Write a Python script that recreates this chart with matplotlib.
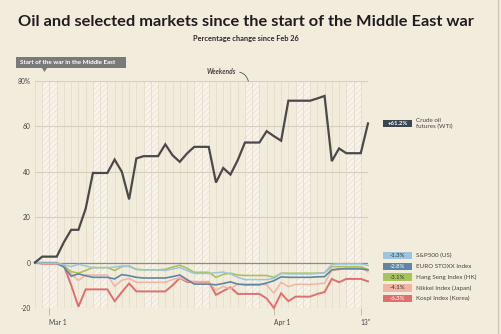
import numpy as np
import pandas as pd
import matplotlib
matplotlib.use('Agg')
import matplotlib.pyplot as plt
from matplotlib.patches import Polygon

plt.rcParams['font.family'] = ['Lato', 'DejaVu Sans']
plt.rcParams['hatch.linewidth'] = 0.6

# daily closes, Feb 26 .. Apr 13 (weekends carry Friday's value)
dates = pd.date_range('2026-02-26', '2026-04-13', freq='D')

oil = [0, 2.6, 2.6, 2.6, 9.0, 14.4, 14.4, 23.7, 39.4, 39.4, 39.4, 45.3, 39.9, 27.8,
       45.8, 46.8, 46.8, 46.8, 52.0, 47.2, 44.3, 48.0, 50.9, 50.9, 50.9, 35.2, 41.6,
       38.7, 45.0, 52.8, 52.8, 52.8, 57.8, 55.6, 53.6, 71.2, 71.2, 71.2, 71.2, 72.2,
       73.3, 44.6, 50.2, 48.1, 48.1, 48.1, 61.2]
sp500 = [0, -0.3, -0.3, -0.3, -1.0, -1.8, -0.8, -1.5, -2.3, -2.3, -2.3, -2.0, -1.5, -1.8,
         -3.0, -3.2, -3.2, -3.2, -3.5, -2.8, -2.2, -3.5, -4.8, -4.8, -4.8, -4.5, -4.2,
         -5.0, -6.5, -7.5, -7.5, -7.5, -7.5, -7.0, -4.8, -5.0, -5.0, -5.0, -5.0, -4.8,
         -4.5, -0.8, -0.6, -0.6, -0.6, -0.6, -1.3]
stoxx = [0, -0.3, -0.3, -0.3, -2.0, -6.0, -5.0, -5.8, -6.5, -6.5, -6.5, -7.2, -5.3, -5.8,
         -6.5, -6.8, -6.8, -6.8, -6.8, -6.2, -5.5, -7.5, -9.5, -9.5, -9.5, -9.8, -9.2,
         -8.5, -9.5, -9.8, -9.8, -9.8, -9.0, -8.0, -6.3, -6.5, -6.5, -6.5, -6.5, -6.3,
         -6.2, -3.2, -2.8, -2.8, -2.8, -2.8, -3.2]
hang_seng = [0, 0, 0, 0, -1.5, -4.0, -4.7, -3.5, -2.2, -2.2, -2.2, -3.5, -1.8, -1.5,
             -3.0, -3.2, -3.2, -3.2, -3.0, -2.0, -1.2, -2.5, -4.3, -4.3, -4.3, -6.5, -5.2,
             -4.7, -5.5, -5.7, -5.7, -5.7, -5.7, -6.5, -4.7, -4.7, -4.7, -4.7, -4.7, -4.7,
             -4.5, -1.8, -1.8, -1.8, -1.8, -1.8, -3.1]
nikkei = [0, -0.3, -0.3, -0.3, -1.5, -5.0, -7.9, -5.5, -5.5, -5.5, -5.5, -10.4, -7.8, -7.0,
          -8.7, -8.7, -8.7, -8.7, -8.7, -7.5, -6.8, -8.0, -8.5, -8.5, -8.5, -12.2, -10.5,
          -11.5, -9.5, -9.4, -9.4, -9.4, -9.8, -13.5, -8.7, -10.6, -9.6, -9.6, -9.6, -9.4,
          -9.1, -3.5, -3.2, -2.2, -2.2, -2.2, -4.1]
kospi = [0, -0.5, -0.5, -0.5, -1.5, -10.0, -19.4, -11.8, -11.8, -11.8, -11.8, -17.0, -13.0, -9.2,
         -12.7, -12.7, -12.7, -12.7, -12.7, -10.0, -6.8, -8.5, -8.5, -8.5, -8.5, -14.2, -12.5,
         -10.9, -13.8, -13.8, -13.8, -13.8, -15.8, -20.0, -13.5, -17.0, -15.0, -15.0, -15.0, -13.8,
         -13.0, -7.2, -8.7, -7.2, -7.2, -7.2, -8.3]

names = ['S&P500 (US)', 'EURO STOXX Index', 'Hang Seng Index (HK)', 'Nikkei Index (Japan)', 'Kospi Index (Korea)']
labels = ['-1.3%', '-2.8%', '-3.1%', '-4.1%', '-6.3%']
colors = ['#9ec4de', '#5f86a3', '#a9c35c', '#f0b4a3', '#e06f6c']
oil_label = '+61.2%'

ytick_vals = [-20, 0, 20, 40, 60, 80]
ytick_text = ['-20', '0', '20', '40', '60', '80%']
xtick_dates = ['2026-03-01', '2026-04-01', '2026-04-13']
xtick_text = ['Mar 1', 'Apr 1', '13"']

bg = '#f2ecdd'
W, H = 501, 334

# close of day d is drawn at the end of that day
start = dates[0]
t = np.array([(d - start).days + 1 for d in dates])

fig = plt.figure(figsize=(W / 100, H / 100), dpi=100, facecolor=bg)
ax = fig.add_axes([35 / W, 1 - 308 / H, (368 - 35) / W, (308 - 80.7) / H])
ax.set_facecolor(bg)
ax.set_xlim(t[0], t[-1])
ax.set_ylim(-20, 80)
for s in ax.spines.values():
    s.set_visible(False)

# weekends
for d in dates:
    if d.dayofweek == 5:
        x0 = (d - start).days
        ax.axvspan(x0, x0 + 2, facecolor='#f8f4eb', edgecolor='#ebe3d1', hatch='//////', lw=0, zorder=0)
# day lines
for x in range(t[0], t[-1] + 1):
    ax.axvline(x, color='#e4ddcc', lw=0.6, zorder=1)
for v in ytick_vals:
    if v != 0:
        ax.axhline(v, color='#d6cfbd', lw=0.8, zorder=1)
ax.axhline(0, color='#8a8a86', lw=0.9, zorder=2)

ax.set_yticks(ytick_vals)
ax.set_yticklabels(ytick_text, fontsize=4.8, color='#444444')
ax.tick_params(axis='y', length=0, pad=3)
xt = [(pd.Timestamp(d) - start).days for d in xtick_dates]
ax.set_xticks(xt)
ax.set_xticklabels(xtick_text, fontsize=4.8, color='#444444', ha='left')
ax.tick_params(axis='x', length=5, width=0.6, color='#b8b2a2', pad=3)

series = [sp500, stoxx, hang_seng, nikkei, kospi]
widths = [1.1, 1.2, 1.2, 1.1, 1.4]
for vals, c, lw in reversed(list(zip(series, colors, widths))):
    ax.plot(t, vals, color=c, lw=lw, zorder=3, clip_on=False, solid_joinstyle='miter')
ax.plot(t, oil, color='#4a4a4a', lw=1.6, zorder=4, clip_on=False, solid_joinstyle='miter')

# right-hand labels
def px(x, y):
    return x / W, 1 - y / H

bx, bw, bh = 383, 29, 7.5
cy = 262 - oil[-1] * 2.265
fig.patches.append(plt.Rectangle(px(bx, cy + bh / 2), bw / W, bh / H, transform=fig.transFigure,
                                 facecolor='#3b474f', edgecolor='none'))
fig.text(*px(bx + bw / 2, cy), oil_label, fontsize=4.3, color='white', fontweight='bold', ha='center', va='center')
fig.text(*px(416, cy), 'Crude oil\nfutures (WTI)', fontsize=4.5, color='#444444', ha='left', va='center', linespacing=1.2)

for i, (lab, nm, c) in enumerate(zip(labels, names, colors)):
    yy = 255.5 + i * 10.8
    fig.patches.append(plt.Rectangle(px(bx, yy + bh / 2), bw / W, bh / H, transform=fig.transFigure,
                                     facecolor=c, edgecolor='none'))
    fig.text(*px(bx + bw / 2, yy), lab, fontsize=4.3, color='#333333' if i in (0, 2, 3) else 'white',
             ha='center', va='center')
    fig.text(*px(416, yy), nm, fontsize=4.5, color='#444444', ha='left', va='center')

# titles
fig.text(*px(246, 22), 'Oil and selected markets since the start of the Middle East war',
         fontsize=11.8, fontweight='bold', color='#1e1e1e', ha='center', va='center')
fig.text(*px(246, 38), 'Percentage change since Feb 26', fontsize=5.3, fontweight='bold',
         color='#2a2a2a', ha='center', va='center')

# start of war marker
fig.patches.append(plt.Rectangle(px(16, 67.5), 110 / W, 10 / H, transform=fig.transFigure,
                                 facecolor='#7a7a78', edgecolor='none'))
fig.patches.append(Polygon([px(41.5, 67.4), px(47.5, 67.4), px(44.5, 72)], closed=True,
                           transform=fig.transFigure, facecolor='#7a7a78', edgecolor='none'))
fig.text(*px(20, 62.5), 'Start of the war in the Middle East', fontsize=4.5, fontweight='bold',
         color='white', ha='left', va='center')

# weekends note
fig.text(*px(221, 72), 'Weekends', fontsize=4.8, fontstyle='italic', fontweight='bold',
         color='#444444', ha='center', va='center')
ax.annotate('', xy=px(249, 84), xycoords='figure fraction', xytext=px(237, 72), textcoords='figure fraction',
            arrowprops=dict(arrowstyle='-', color='#555555', lw=0.6, connectionstyle='angle3,angleA=0,angleB=-80'))

# frame line at right edge
fig.add_artist(plt.Line2D([498 / W, 498 / W], [0, 1], color='#c9c3b6', lw=0.8, transform=fig.transFigure))

fig.savefig('out.png', dpi=100, facecolor=bg)
